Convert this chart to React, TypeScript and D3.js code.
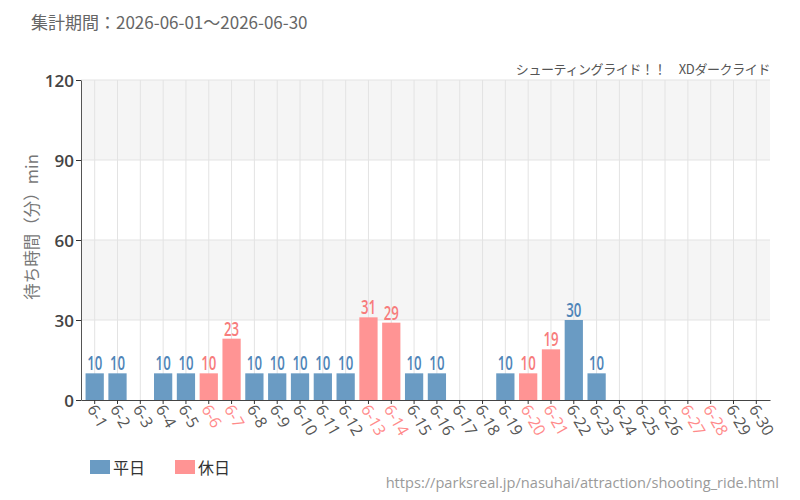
import { useRef, useEffect } from "react";
import * as d3 from "d3";

const WIDTH = 800;
const HEIGHT = 500;
const M = { top: 80, right: 30, bottom: 100, left: 81 };

const DAYS = d3.range(1, 31).map((d) => `6-${d}`);
const WAITS: (number | null)[] = [
  10, 10, null, 10, 10, 10, 23, 10, 10, 10,
  10, 10, 31, 29, 10, 10, null, null, 10, 10,
  19, 30, 10, null, null, null, null, null, null, null,
];
const HOLIDAYS = ["6-6", "6-7", "6-13", "6-14", "6-20", "6-21", "6-27", "6-28"];
const Y_TICKS = [0, 30, 60, 90, 120];

const BLUE = "#6a9bc3";
const BLUE_TEXT = "#4f85b8";
const PINK = "#ff9494";
const PINK_TEXT = "#f77c7c";
const JP = "'Noto Sans CJK JP', 'Noto Sans', sans-serif";
const SANS = "'Open Sans', 'Noto Sans', sans-serif";

export default function App() {
  const ref = useRef<SVGSVGElement>(null);

  useEffect(() => {
    const svg = d3.select(ref.current);
    svg.selectAll("*").remove();

    const x = d3.scaleBand().domain(DAYS).range([M.left, WIDTH - M.right]).padding(0.2);
    const y = d3.scaleLinear().domain([0, 120]).range([HEIGHT - M.bottom, M.top]);
    const cx = (d: string) => (x(d) ?? 0) + x.bandwidth() / 2;

    // alternating bands
    for (let i = 0; i < Y_TICKS.length - 1; i++) {
      svg.append("rect")
        .attr("x", M.left).attr("width", WIDTH - M.right - M.left)
        .attr("y", y(Y_TICKS[i + 1])).attr("height", y(Y_TICKS[i]) - y(Y_TICKS[i + 1]))
        .attr("fill", i % 2 === 1 ? "#f5f5f5" : "#fff");
    }

    // grid
    svg.append("g").selectAll("line").data(Y_TICKS.slice(1)).join("line")
      .attr("x1", M.left).attr("x2", WIDTH - M.right)
      .attr("y1", (d) => y(d)).attr("y2", (d) => y(d))
      .attr("stroke", "#e3e3e3");
    svg.append("g").selectAll("line").data(DAYS).join("line")
      .attr("x1", cx).attr("x2", cx)
      .attr("y1", M.top).attr("y2", y(0))
      .attr("stroke", "#e3e3e3");

    const data = DAYS.map((d, i) => ({ day: d, v: WAITS[i], hol: HOLIDAYS.includes(d) }))
      .filter((d) => d.v != null) as { day: string; v: number; hol: boolean }[];

    svg.append("g").selectAll("rect").data(data).join("rect")
      .attr("x", (d) => x(d.day) ?? 0)
      .attr("width", x.bandwidth())
      .attr("y", (d) => y(d.v))
      .attr("height", (d) => y(0) - y(d.v))
      .attr("fill", (d) => (d.hol ? PINK : BLUE));

    // value labels, squeezed horizontally to look condensed
    svg.append("g").selectAll("text").data(data).join("text")
      .attr("transform", (d) => `translate(${cx(d.day)},${y(d.v) - 3}) scale(0.66,1)`)
      .attr("text-anchor", "middle")
      .attr("font-family", SANS)
      .attr("font-weight", 600)
      .attr("font-size", 20)
      .attr("fill", (d) => (d.hol ? PINK_TEXT : BLUE_TEXT))
      .text((d) => d.v);

    // y axis
    const yAxis = svg.append("g")
      .attr("transform", `translate(${M.left},0)`)
      .call(d3.axisLeft(y).tickValues(Y_TICKS).tickSize(5).tickSizeOuter(0));
    yAxis.select(".domain").attr("stroke", "#555");
    yAxis.selectAll(".tick line").attr("stroke", "#333");
    yAxis.selectAll(".tick text")
      .attr("font-family", SANS)
      .attr("font-weight", 600)
      .attr("font-size", 17)
      .attr("fill", "#444")
      .attr("x", -7)
      .attr("dy", "0.36em");

    // x axis
    const xAxis = svg.append("g")
      .attr("transform", `translate(0,${y(0)})`)
      .call(d3.axisBottom(x).tickSize(4).tickSizeOuter(0));
    xAxis.select(".domain").attr("stroke", "#444");
    xAxis.selectAll(".tick line").attr("stroke", "#333");
    xAxis.selectAll<SVGTextElement, string>(".tick text")
      .attr("font-family", SANS)
      .attr("font-size", 16)
      .attr("fill", (d) => (HOLIDAYS.includes(d) ? "#ff8a8a" : "#555"))
      .attr("text-anchor", "start")
      .attr("dy", "0.35em")
      .attr("transform", "translate(-3,6) rotate(60)")
      .attr("x", 0).attr("y", 0);

    // y title
    svg.append("text")
      .attr("transform", `translate(38,227) rotate(-90)`)
      .attr("text-anchor", "middle")
      .attr("font-family", JP)
      .attr("font-size", 16.5)
      .attr("fill", "#777")
      .text("待ち時間（分）min");

    // title / subtitle
    svg.append("text")
      .attr("x", 31).attr("y", 29)
      .attr("font-family", JP).attr("font-size", 17).attr("fill", "#666")
      .text("集計期間：2026-06-01～2026-06-30");
    svg.append("text")
      .attr("x", WIDTH - M.right).attr("y", 74)
      .attr("text-anchor", "end")
      .attr("font-family", JP).attr("font-size", 13).attr("fill", "#555")
      .attr("letter-spacing", -0.4)
      .text("シューティングライド！！　XDダークライド");

    // legend
    const legend = [
      { label: "平日", color: BLUE, x: 90 },
      { label: "休日", color: PINK, x: 175 },
    ];
    const lg = svg.append("g").selectAll("g").data(legend).join("g")
      .attr("transform", (d) => `translate(${d.x},460)`);
    lg.append("rect").attr("width", 20).attr("height", 14).attr("fill", (d) => d.color);
    lg.append("text")
      .attr("x", 23).attr("y", 14)
      .attr("font-family", JP).attr("font-size", 16).attr("fill", "#333")
      .text((d) => d.label);

    svg.append("text")
      .attr("x", 779).attr("y", 488)
      .attr("text-anchor", "end")
      .attr("font-family", SANS).attr("font-size", 14.6).attr("fill", "#9a9a9a")
      .text("https://parksreal.jp/nasuhai/attraction/shooting_ride.html");
  }, []);

  return (
    <svg
      ref={ref}
      width={WIDTH}
      height={HEIGHT}
      style={{ position: "absolute", left: 0, top: 0, background: "#fff" }}
    />
  );
}
